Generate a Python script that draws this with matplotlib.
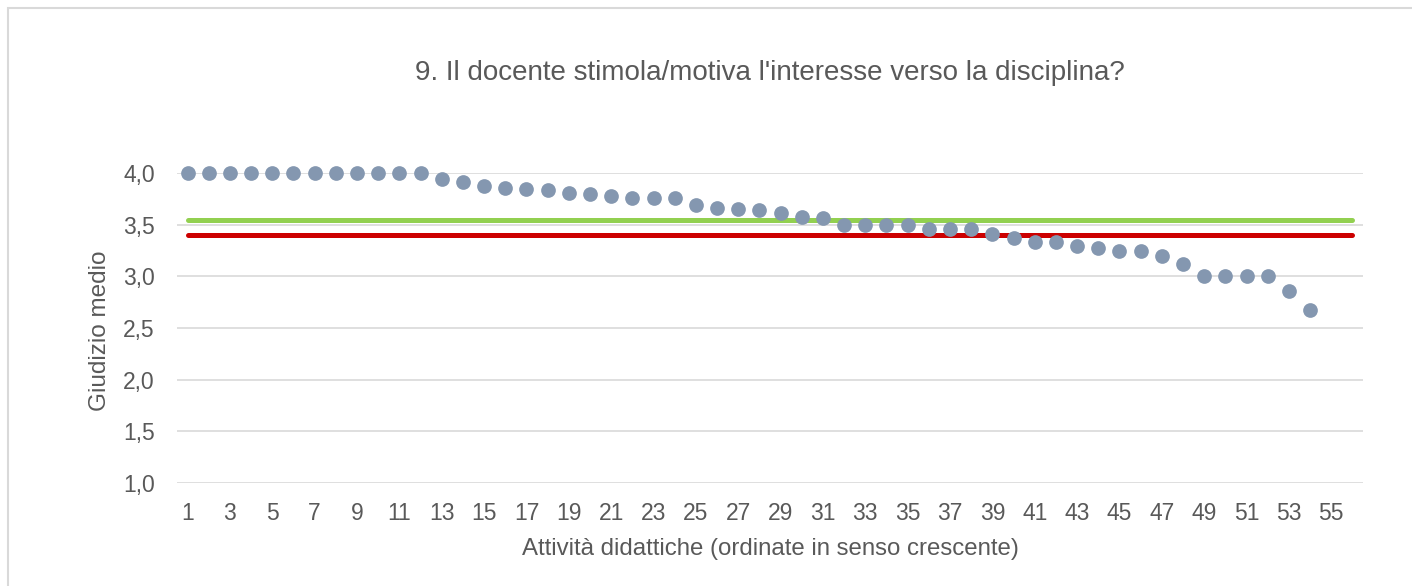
import matplotlib
matplotlib.use("Agg")
import matplotlib.pyplot as plt
from matplotlib.patches import Rectangle

plt.rcParams['font.family'] = ['Liberation Sans', 'DejaVu Sans']

# ── Data ─────────────────────────────────────────────
activities = list(range(1, 55))
scores = [4.00, 4.00, 4.00, 4.00, 4.00, 4.00, 4.00, 4.00, 4.00, 4.00,
          4.00, 4.00, 3.94, 3.91, 3.875, 3.855, 3.845, 3.835, 3.81, 3.80,
          3.78, 3.755, 3.755, 3.755, 3.69, 3.66, 3.65, 3.64, 3.61, 3.57,
          3.56, 3.50, 3.50, 3.50, 3.50, 3.46, 3.46, 3.46, 3.41, 3.37,
          3.335, 3.335, 3.29, 3.27, 3.25, 3.25, 3.20, 3.12, 3.00, 3.00,
          3.00, 3.00, 2.86, 2.67]
line_x = [1, 56]
green_ref = 3.546
red_ref = 3.403
yticks = [1.0, 1.5, 2.0, 2.5, 3.0, 3.5, 4.0]
xticks = list(range(1, 56, 2))

TXT = "#595959"
W, H = 1412, 586

fig = plt.figure(figsize=(W / 100, H / 100), dpi=100)
# chart area border (cut off at right and bottom, as in the source)
fig.patches.append(Rectangle((8 / W, -0.1), 1.2, 1 - 8 / H + 0.1,
                             transform=fig.transFigure, fill=False,
                             edgecolor="#d9d9d9", linewidth=1.5))

ax = fig.add_axes([177 / W, 1 - 483 / H, (1363 - 177) / W, (483 - 173) / H])

for y in yticks:
    ax.axhline(y, color="#d9d9d9", linewidth=1.2, zorder=0)

ax.plot(line_x, [green_ref, green_ref], color="#92d050", linewidth=3.6,
        solid_capstyle="round", zorder=2)
ax.plot(line_x, [red_ref, red_ref], color="#cc0000", linewidth=3.6,
        solid_capstyle="round", zorder=2)
ax.scatter(activities, scores, s=112, color="#8497b0", zorder=3,
           linewidths=0, clip_on=False)

ax.set_xlim(0.5, 56.5)
ax.set_ylim(1.0, 4.0)
ax.set_yticks(yticks)
ax.set_yticklabels([f"{v:.1f}".replace(".", ",") for v in yticks])
ax.set_xticks(xticks)
ax.set_xticklabels([str(v) for v in xticks])
ax.tick_params(axis="both", length=0, labelsize=16.5, colors=TXT)
ax.tick_params(axis="x", pad=14)
ax.tick_params(axis="y", pad=16)
for s in ax.spines.values():
    s.set_visible(False)

fig.text(100 / W, 1 - 331 / H, "Giudizio medio", rotation=90,
         ha="center", va="center", fontsize=17.5, color=TXT)
fig.text(770 / W, 1 - 549 / H, "Attività didattiche (ordinate in senso crescente)",
         ha="center", va="center", fontsize=17.3, color=TXT)
fig.text(770 / W, 1 - 73 / H, "9. Il docente stimola/motiva l'interesse verso la disciplina?",
         ha="center", va="center", fontsize=20, color=TXT)

fig.savefig("out.png", dpi=100, facecolor="white")
